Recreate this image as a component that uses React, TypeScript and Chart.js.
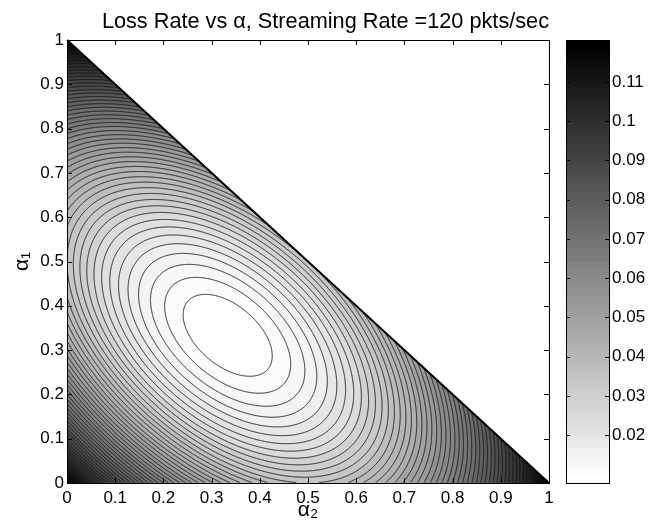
import React, { useEffect, useRef } from "react";
import { Chart, registerables } from "chart.js";

Chart.register(...registerables);

const TITLE = "Loss Rate vs α, Streaming Rate =120 pkts/sec";
const X_LABEL = "α₂";
const Y_LABEL = "α₁";
const AXIS_TICKS = [0, 0.1, 0.2, 0.3, 0.4, 0.5, 0.6, 0.7, 0.8, 0.9, 1];
const COLORBAR_TICKS = [0.02, 0.03, 0.04, 0.05, 0.06, 0.07, 0.08, 0.09, 0.1, 0.11];

// lattice spacing of the read-off values (alpha2 across, alpha1 down the rows)
const GRID_STEP = 0.1;
// loss rate read at alpha1 = row * 0.1, alpha2 = col * 0.1, for alpha1 + alpha2 <= 1
const LOSS_ROW_0 = [0.1207, 0.09022, 0.06651, 0.04957, 0.03941, 0.03603, 0.03941, 0.04957, 0.06651, 0.09022, 0.1207];
const LOSS_ROW_1 = [0.09022, 0.06312, 0.0428, 0.02925, 0.02248, 0.02248, 0.02925, 0.0428, 0.06312, 0.09022];
const LOSS_ROW_2 = [0.06651, 0.0428, 0.02586, 0.0157, 0.01232, 0.0157, 0.02586, 0.0428, 0.06651];
const LOSS_ROW_3 = [0.04957, 0.02925, 0.0157, 0.00893, 0.00893, 0.0157, 0.02925, 0.04957];
const LOSS_ROW_4 = [0.03941, 0.02248, 0.01232, 0.00893, 0.01232, 0.02248, 0.03941];
const LOSS_ROW_5 = [0.03603, 0.02248, 0.0157, 0.0157, 0.02248, 0.03603];
const LOSS_ROW_6 = [0.03941, 0.02925, 0.02586, 0.02925, 0.03941];
const LOSS_ROW_7 = [0.04957, 0.0428, 0.0428, 0.04957];
const LOSS_ROW_8 = [0.06651, 0.06312, 0.06651];
const LOSS_ROW_9 = [0.09022, 0.09022];
const LOSS_ROW_10 = [0.1207];
const LOSS_ROWS = [
  LOSS_ROW_0, LOSS_ROW_1, LOSS_ROW_2, LOSS_ROW_3, LOSS_ROW_4, LOSS_ROW_5,
  LOSS_ROW_6, LOSS_ROW_7, LOSS_ROW_8, LOSS_ROW_9, LOSS_ROW_10,
];

// colour range (colorbar limits) and contour settings
const LOSS_MIN = 0.0078;
const LOSS_MAX = 0.1207;
const CONTOUR_COUNT = 51;
const GRAY_LEVELS = 64;

const FONT = "'Liberation Sans', Arial, Helvetica, sans-serif";
const PAD = 2;

function buildExtended(): number[][] {
  const n = LOSS_ROWS.length;
  const S = n + 2 * PAD;
  const E: number[][] = Array.from({ length: S }, () => new Array(S).fill(NaN));
  LOSS_ROWS.forEach((row, j) => row.forEach((v, i) => { E[j + PAD][i + PAD] = v; }));
  for (let j = 0; j < n; j++) {
    const len = LOSS_ROWS[j].length;
    if (len < 3) continue;
    const r = E[j + PAD];
    for (let i = len + PAD; i < S; i++) r[i] = 3 * r[i - 1] - 3 * r[i - 2] + r[i - 3];
    for (let i = PAD - 1; i >= 0; i--) r[i] = 3 * r[i + 1] - 3 * r[i + 2] + r[i + 3];
  }
  for (let i = 0; i < S; i++) {
    for (let j = PAD; j < S; j++) {
      if (isNaN(E[j][i])) E[j][i] = 3 * E[j - 1][i] - 3 * E[j - 2][i] + E[j - 3][i];
    }
    for (let j = PAD - 1; j >= 0; j--) {
      if (isNaN(E[j][i])) E[j][i] = 3 * E[j + 1][i] - 3 * E[j + 2][i] + E[j + 3][i];
    }
  }
  return E;
}

function keys(t: number) {
  t = Math.abs(t);
  if (t <= 1) return 1.5 * t * t * t - 2.5 * t * t + 1;
  if (t < 2) return -0.5 * t * t * t + 2.5 * t * t - 4 * t + 2;
  return 0;
}

function weights(u: number, maxCell: number) {
  let i0 = Math.floor(u);
  if (i0 > maxCell) i0 = maxCell;
  if (i0 < 0) i0 = 0;
  const f = u - i0;
  return { i0, w: [keys(f + 1), keys(f), keys(1 - f), keys(2 - f)] };
}

function grayFor(v: number) {
  let r = Math.floor(((v - LOSS_MIN) / (LOSS_MAX - LOSS_MIN)) * GRAY_LEVELS + 1e-9);
  if (r < 0) r = 0;
  if (r > GRAY_LEVELS - 1) r = GRAY_LEVELS - 1;
  return Math.round(((GRAY_LEVELS - 1 - r) / (GRAY_LEVELS - 1)) * 255);
}

const contourPlugin = {
  id: "contourField",
  beforeDatasetsDraw(chart: any) {
    const { ctx, chartArea: ca, scales } = chart;
    const xs = scales.x, ys = scales.y;
    const left = Math.round(ca.left), top = Math.round(ca.top);
    const W = Math.round(ca.right) - left, H = Math.round(ca.bottom) - top;
    const E = buildExtended();
    const S = E.length;
    const maxCell = LOSS_ROWS.length - 2;
    const delta = (LOSS_MAX - LOSS_MIN) / (CONTOUR_COUNT + 1);

    const colI = new Int32Array(W);
    const colW = new Float64Array(W * 4);
    const colA = new Float64Array(W);
    for (let px = 0; px < W; px++) {
      const a2 = xs.getValueForPixel(left + px + 0.5);
      colA[px] = a2;
      const { i0, w } = weights(a2 / GRID_STEP, maxCell);
      colI[px] = i0;
      for (let d = 0; d < 4; d++) colW[px * 4 + d] = w[d];
    }
    const F = new Float64Array(W * H);
    const rowVals = new Float64Array(S);
    const off = document.createElement("canvas");
    off.width = W;
    off.height = H;
    const octx = off.getContext("2d")!;
    const img = octx.createImageData(W, H);
    const data = img.data;
    for (let py = 0; py < H; py++) {
      const a1 = ys.getValueForPixel(top + py + 0.5);
      const { i0: j0, w: wy } = weights(a1 / GRID_STEP, maxCell);
      for (let i = 0; i < S; i++) {
        let s = 0;
        for (let d = 0; d < 4; d++) s += E[j0 - 1 + d + PAD][i] * wy[d];
        rowVals[i] = s;
      }
      for (let px = 0; px < W; px++) {
        const i0 = colI[px];
        let v = 0;
        for (let d = 0; d < 4; d++) v += rowVals[i0 - 1 + d + PAD] * colW[px * 4 + d];
        F[py * W + px] = v;
        const k = py * W + px;
        if (a1 + colA[px] <= 1.003) {
          let band = Math.floor((v - LOSS_MIN) / delta);
          if (band < 0) band = 0;
          if (band > CONTOUR_COUNT) band = CONTOUR_COUNT;
          const g = grayFor(LOSS_MIN + band * delta);
          data[k * 4] = g;
          data[k * 4 + 1] = g;
          data[k * 4 + 2] = g;
          data[k * 4 + 3] = 255;
        }
      }
    }
    octx.putImageData(img, 0, 0);

    const x0 = xs.getPixelForValue(0), x1 = xs.getPixelForValue(1);
    const y0 = ys.getPixelForValue(0), y1 = ys.getPixelForValue(1);
    ctx.save();
    ctx.beginPath();
    ctx.moveTo(x0, y0);
    ctx.lineTo(x1, y0);
    ctx.lineTo(x0, y1);
    ctx.closePath();
    ctx.clip();
    ctx.drawImage(off, left, top);

    // contour lines (marching squares on the pixel-centre samples)
    ctx.beginPath();
    for (let py = 0; py < H - 1; py++) {
      for (let px = 0; px < W - 1; px++) {
        const a = F[py * W + px], b = F[py * W + px + 1];
        const c = F[(py + 1) * W + px + 1], d = F[(py + 1) * W + px];
        const mn = Math.min(a, b, c, d), mx = Math.max(a, b, c, d);
        let kLo = Math.ceil((mn - LOSS_MIN) / delta);
        let kHi = Math.floor((mx - LOSS_MIN) / delta);
        if (kLo < 1) kLo = 1;
        if (kHi > CONTOUR_COUNT) kHi = CONTOUR_COUNT;
        if (kLo > kHi) continue;
        const cx = left + px + 0.5, cy = top + py + 0.5;
        for (let k = kLo; k <= kHi; k++) {
          const L = LOSS_MIN + k * delta;
          const pts: number[] = [];
          if ((a < L) !== (b < L)) { const t = (L - a) / (b - a); pts.push(cx + t, cy); }
          if ((b < L) !== (c < L)) { const t = (L - b) / (c - b); pts.push(cx + 1, cy + t); }
          if ((d < L) !== (c < L)) { const t = (L - d) / (c - d); pts.push(cx + t, cy + 1); }
          if ((a < L) !== (d < L)) { const t = (L - a) / (d - a); pts.push(cx, cy + t); }
          for (let p = 0; p + 3 < pts.length; p += 4) {
            ctx.moveTo(pts[p], pts[p + 1]);
            ctx.lineTo(pts[p + 2], pts[p + 3]);
          }
        }
      }
    }
    ctx.strokeStyle = "#151515";
    ctx.lineWidth = 0.9;
    ctx.stroke();
    ctx.restore();

    ctx.save();
    ctx.beginPath();
    ctx.moveTo(x0, y1);
    ctx.lineTo(x1, y0);
    ctx.strokeStyle = "#000";
    ctx.lineWidth = 2;
    ctx.stroke();
    ctx.restore();
  },
  afterDraw(chart: any) {
    const { ctx, chartArea: ca, scales } = chart;
    ctx.save();
    ctx.strokeStyle = "#000";
    ctx.lineWidth = 1;
    ctx.strokeRect(Math.round(ca.left) + 0.5, Math.round(ca.top) + 0.5, Math.round(ca.right - ca.left), Math.round(ca.bottom - ca.top));
    ctx.beginPath();
    const len = 5;
    AXIS_TICKS.forEach((v) => {
      const x = Math.round(scales.x.getPixelForValue(v)) + 0.5;
      ctx.moveTo(x, ca.bottom); ctx.lineTo(x, ca.bottom - len);
      ctx.moveTo(x, ca.top); ctx.lineTo(x, ca.top + len);
      const y = Math.round(scales.y.getPixelForValue(v)) + 0.5;
      ctx.moveTo(ca.left, y); ctx.lineTo(ca.left + len, y);
      ctx.moveTo(ca.right, y); ctx.lineTo(ca.right - len, y);
    });
    ctx.stroke();
    ctx.restore();
  },
};

const colorbarPlugin = {
  id: "colorbarFrame",
  afterDraw(chart: any) {
    const { ctx, chartArea: ca, scales } = chart;
    ctx.save();
    ctx.strokeStyle = "#000";
    ctx.lineWidth = 1;
    ctx.strokeRect(Math.round(ca.left) + 0.5, Math.round(ca.top) + 0.5, Math.round(ca.right - ca.left), Math.round(ca.bottom - ca.top));
    ctx.beginPath();
    const len = 4;
    COLORBAR_TICKS.forEach((v) => {
      const y = Math.round(scales.y.getPixelForValue(v)) + 0.5;
      ctx.moveTo(ca.left, y); ctx.lineTo(ca.left + len, y);
      ctx.moveTo(ca.right, y); ctx.lineTo(ca.right - len, y);
    });
    ctx.stroke();
    ctx.restore();
  },
};

const axisFmt = (v: number) => String(Math.round(v * 10) / 10);
const cbFmt = (v: number) => String(Math.round(v * 100) / 100);

export default function App() {
  const mainRef = useRef<HTMLCanvasElement>(null);
  const barRef = useRef<HTMLCanvasElement>(null);

  useEffect(() => {
    const latticePoints: { x: number; y: number }[] = [];
    LOSS_ROWS.forEach((row, j) => row.forEach((_v, i) => latticePoints.push({ x: i * GRID_STEP, y: j * GRID_STEP })));

    const tickFont = { family: FONT, size: 17 };
    const main = new Chart(mainRef.current!, {
      type: "scatter",
      data: {
        datasets: [{ data: latticePoints, pointRadius: 0, showLine: false }],
      },
      options: {
        responsive: false,
        animation: false,
        devicePixelRatio: 1,
        layout: { padding: { top: 0, right: 100, bottom: 0, left: 0 } },
        plugins: {
          legend: { display: false },
          tooltip: { enabled: false },
          title: {
            display: true,
            text: TITLE,
            color: "#000",
            align: "end",
            font: { family: FONT, size: 21.7, weight: "normal", lineHeight: "24px" },
            padding: { top: 10, bottom: 6 },
          },
        },
        scales: {
          x: {
            type: "linear",
            min: 0,
            max: 1,
            position: "bottom",
            afterBuildTicks: (s: any) => { s.ticks = AXIS_TICKS.map((v) => ({ value: v })); },
            afterFit: (s: any) => { s.height = 43; },
            ticks: { font: tickFont, color: "#000", padding: 5, maxRotation: 0, autoSkip: false, callback: (v: any) => axisFmt(Number(v)) },
            grid: { display: false, drawTicks: false },
            border: { display: false },
            title: { display: true, text: X_LABEL, color: "#000", font: { family: FONT, size: 21, lineHeight: "24px" }, padding: { top: 0, bottom: 4 } },
          },
          y: {
            type: "linear",
            min: 0,
            max: 1,
            position: "left",
            afterBuildTicks: (s: any) => { s.ticks = AXIS_TICKS.map((v) => ({ value: v })); },
            afterFit: (s: any) => { s.width = 67; },
            ticks: { font: tickFont, color: "#000", padding: 3, autoSkip: false, callback: (v: any) => axisFmt(Number(v)) },
            grid: { display: false, drawTicks: false },
            border: { display: false },
            title: { display: true, text: Y_LABEL, color: "#000", font: { family: FONT, size: 21, lineHeight: "24px" }, padding: { top: 10, bottom: 0 } },
          },
        },
      } as any,
      plugins: [contourPlugin],
    });

    const bar = new Chart(barRef.current!, {
      type: "bar",
      data: {
        labels: ["loss"],
        datasets: [
          {
            data: [[LOSS_MIN, LOSS_MAX]] as any,
            borderWidth: 0,
            barPercentage: 1,
            categoryPercentage: 1,
            backgroundColor: (c: any) => {
              const ca = c.chart.chartArea;
              if (!ca) return "#888";
              const g = c.chart.ctx.createLinearGradient(0, ca.bottom, 0, ca.top);
              for (let r = 0; r < GRAY_LEVELS; r++) {
                const v = Math.round(((GRAY_LEVELS - 1 - r) / (GRAY_LEVELS - 1)) * 255);
                const col = `rgb(${v},${v},${v})`;
                g.addColorStop(r / GRAY_LEVELS, col);
                g.addColorStop(Math.min(1, (r + 1) / GRAY_LEVELS - 1e-4), col);
              }
              return g;
            },
          },
        ],
      },
      options: {
        responsive: false,
        animation: false,
        devicePixelRatio: 1,
        layout: { padding: { top: 40, right: 0, bottom: 43, left: 566 } },
        plugins: { legend: { display: false }, tooltip: { enabled: false }, title: { display: false } },
        scales: {
          x: { display: false },
          y: {
            position: "right",
            min: LOSS_MIN,
            max: LOSS_MAX,
            afterBuildTicks: (s: any) => { s.ticks = COLORBAR_TICKS.map((v) => ({ value: v })); },
            afterFit: (s: any) => { s.width = 40; },
            ticks: { font: tickFont, color: "#000", padding: 3, autoSkip: false, callback: (v: any) => cbFmt(Number(v)) },
            grid: { display: false, drawTicks: false },
            border: { display: false },
          },
        },
      } as any,
      plugins: [colorbarPlugin],
    });

    return () => {
      main.destroy();
      bar.destroy();
    };
  }, []);

  return (
    <div style={{ position: "absolute", left: 0, top: 0, width: 649, height: 526, background: "#fff" }}>
      <canvas ref={mainRef} width={649} height={526} style={{ position: "absolute", left: 0, top: 0 }} />
      <canvas ref={barRef} width={649} height={526} style={{ position: "absolute", left: 0, top: 0, pointerEvents: "none" }} />
    </div>
  );
}
